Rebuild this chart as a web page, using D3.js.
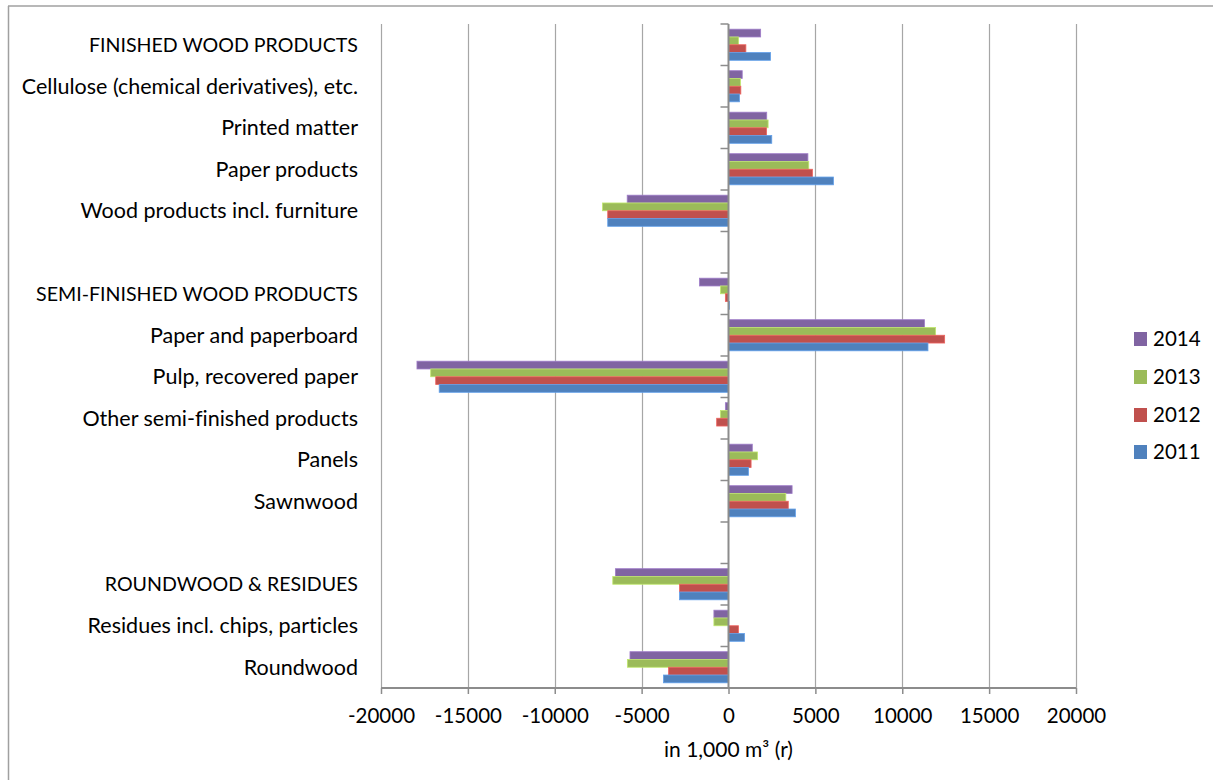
<!DOCTYPE html>
<html><head><meta charset="utf-8">
<script src="https://cdn.jsdelivr.net/npm/d3@7/dist/d3.min.js"></script>
<style>body{margin:0;background:#fff}svg{display:block}text{font-family:Lato,"Open Sans",sans-serif;fill:#000;font-variant-ligatures:none}</style>
</head><body><svg id="c" width="1213" height="780"></svg>
<script>
const categories = ["FINISHED WOOD PRODUCTS","Cellulose (chemical derivatives), etc.","Printed matter","Paper products","Wood products incl. furniture","",
  "SEMI-FINISHED WOOD PRODUCTS","Paper and paperboard","Pulp, recovered paper","Other semi-finished products","Panels","Sawnwood"," ",
  "ROUNDWOOD & RESIDUES","Residues incl. chips, particles","Roundwood"];
const seriesNames = ["2014","2013","2012","2011"];
const seriesColors = ["#8064A2","#9BBB59","#C0504D","#4F81BD"];
const v2014 = [1850,790,2200,4570,-5830,null,-1670,11280,-17930,-180,1370,3660,null,-6510,-840,-5670];
const v2013 = [580,690,2280,4620,-7250,null,-460,11920,-17140,-460,1670,3300,null,-6660,-840,-5820];
const v2012 = [1000,710,2190,4830,-6950,null,-180,12440,-16850,-680,1300,3440,null,-2820,570,-3450];
const v2011 = [2420,630,2490,6040,-6950,null,50,11480,-16650,0,1150,3850,null,-2820,920,-3740];
const seriesValues = [v2014,v2013,v2012,v2011];
const xTicks = [-20000,-15000,-10000,-5000,0,5000,10000,15000,20000];
const axisTitle = "in 1,000 m\u00B3 (r)";

const svg = d3.select("#c");
const L = 381, R = 1076, T = 24, B = 688;
const x = d3.scaleLinear().domain([-20000,20000]).range([L,R]);
const y = d3.scaleBand().domain(categories).range([T,B]).paddingInner(0.25).paddingOuter(0.125);
const yRow = d3.scaleBand().domain(categories).range([T,B]);
const ySub = d3.scaleBand().domain(seriesNames).range([0,y.bandwidth()]);

// border
svg.append("line").attr("x1",8.5).attr("x2",8.5).attr("y1",6).attr("y2",780).attr("stroke","#a0a0a0").attr("stroke-width",1.5);
svg.append("line").attr("x1",8).attr("x2",1213).attr("y1",6).attr("y2",6).attr("stroke","#a0a0a0").attr("stroke-width",1.5);

// gridlines
svg.append("g").selectAll("line").data(xTicks.filter(d=>d!==0)).join("line")
  .attr("x1",d=>Math.round(x(d))+0.5).attr("x2",d=>Math.round(x(d))+0.5).attr("y1",T).attr("y2",B)
  .attr("stroke","#a6a6a6").attr("stroke-width",1.2);

// bars
const g = svg.append("g");
seriesNames.forEach((s,si)=>{
  g.append("g").selectAll("rect").data(categories.map((c,i)=>({c,v:seriesValues[si][i]})).filter(d=>d.v!==null)).join("rect")
    .attr("x",d=>x(Math.min(0,d.v)))
    .attr("width",d=>Math.abs(x(d.v)-x(0)))
    .attr("y",d=>y(d.c)+ySub(s))
    .attr("height",ySub.bandwidth())
    .attr("fill",seriesColors[si])
    .attr("stroke",d3.color(seriesColors[si]).brighter(0.6))
    .attr("stroke-width",0.8);
});

// x axis
const xa = svg.append("g").attr("transform",`translate(0,${B})`)
  .call(d3.axisBottom(x).tickValues(xTicks).tickSize(6).tickPadding(14).tickFormat(d=>String(d)));
xa.select(".domain").attr("stroke","#8c8c8c").attr("stroke-width",2).attr("d",`M${L},0H${R}`);
xa.selectAll(".tick line").attr("stroke","#8c8c8c").attr("stroke-width",1.5);
xa.selectAll(".tick text").attr("font-size",20.5).attr("font-family","Lato").attr("fill","#000").attr("dy","0.71em");

// zero y axis with ticks at boundaries
const bounds = categories.map(c=>yRow(c)).concat([B]);
svg.append("line").attr("x1",x(0)).attr("x2",x(0)).attr("y1",T).attr("y2",B).attr("stroke","#8c8c8c").attr("stroke-width",2);
svg.append("g").selectAll("line").data(bounds).join("line")
  .attr("x1",x(0)-8).attr("x2",x(0)).attr("y1",d=>d).attr("y2",d=>d).attr("stroke","#8c8c8c").attr("stroke-width",1.5);

// category labels
svg.append("g").selectAll("text").data(categories).join("text")
  .attr("x",358).attr("y",d=>yRow(d)+yRow.bandwidth()/2).attr("dy","0.35em")
  .attr("text-anchor","end").attr("font-size",d=>(d===d.toUpperCase()?19.6:21.5)).text(d=>d.trim());

// axis title
svg.append("text").attr("x",x(0)).attr("y",757).attr("text-anchor","middle").attr("font-size",21).text(axisTitle);

// legend
const leg = svg.append("g");
const legY = [339,377,415,452];
seriesNames.forEach((s,i)=>{
  leg.append("rect").attr("x",1134).attr("y",legY[i]-7).attr("width",13).attr("height",14).attr("fill",seriesColors[i]);
  leg.append("text").attr("x",1153).attr("y",legY[i]).attr("dy","0.35em").attr("font-size",20.5).text(s);
});
</script></body></html>
